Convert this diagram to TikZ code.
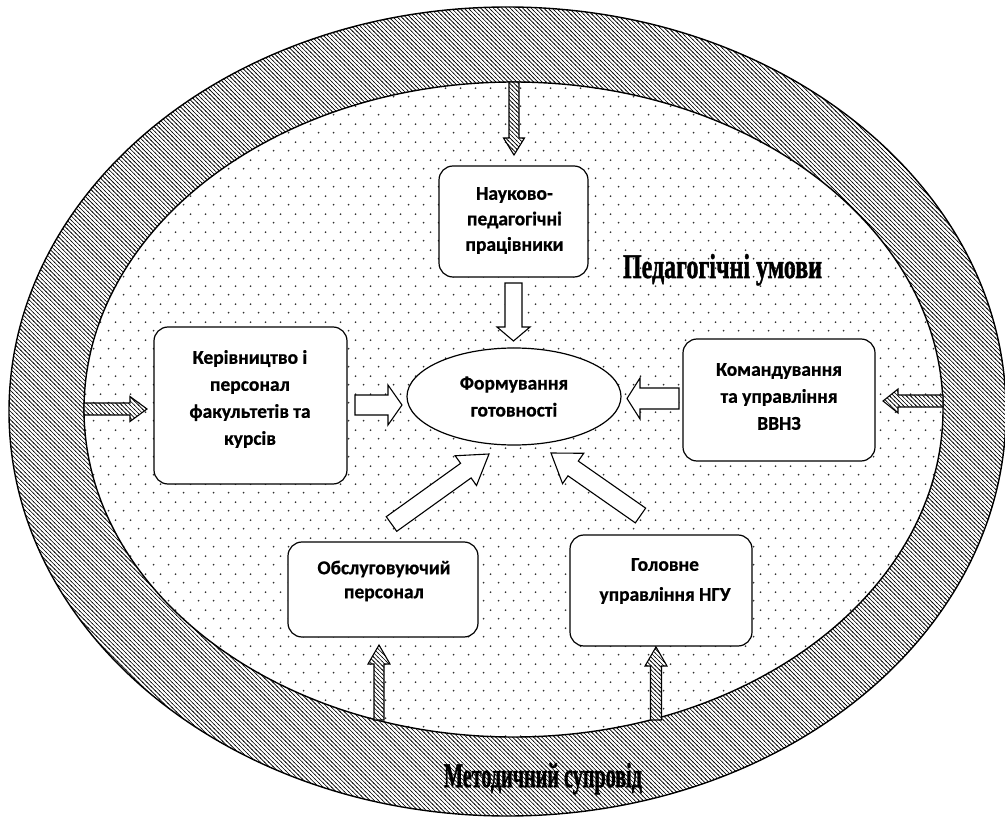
\documentclass[tikz,border=0pt]{standalone}
\usepackage{graphicx}
\usepackage{fontspec}
\setmainfont{Liberation Serif}
\newfontfamily\heavyserif{Liberation Serif Bold}[FakeBold=1.6]
\newfontfamily\boxfont{Carlito Bold}[FakeBold=0.7]
\usetikzlibrary{calc,patterns,shapes.geometric}
\pgfdeclarepatternformonly{hatchlines}{\pgfqpoint{-1pt}{-1pt}}{\pgfqpoint{5.2pt}{5.2pt}}{\pgfqpoint{4.2pt}{4.2pt}}{%
  \pgfsetlinewidth{0.62pt}%
  \pgfpathmoveto{\pgfqpoint{-0.5pt}{4.7pt}}%
  \pgfpathlineto{\pgfqpoint{4.7pt}{-0.5pt}}%
  \pgfusepath{stroke}}
\pgfdeclarepatternformonly{stagdots}{\pgfqpoint{0pt}{0pt}}{\pgfqpoint{15pt}{18pt}}{\pgfqpoint{15pt}{18pt}}{%
  \pgfpathcircle{\pgfqpoint{3.75pt}{4.5pt}}{1.05pt}%
  \pgfpathcircle{\pgfqpoint{11.25pt}{13.5pt}}{1.05pt}%
  \pgfusepath{fill}}
% block arrow: style, from, to, half shaft, half head, head length
\newcommand\blockarrow[6]{%
  \coordinate (ba-base) at ($(#3)!#6!(#2)$);
  \path[#1] ($(#2)!#4!90:(#3)$) -- ($(ba-base)!#4!90:(#3)$) -- ($(ba-base)!#5!90:(#3)$) -- (#3)
    -- ($(ba-base)!#5!-90:(#3)$) -- ($(ba-base)!#4!-90:(#3)$) -- ($(#2)!#4!-90:(#3)$) -- cycle;
}
\begin{document}
\begin{tikzpicture}[x=1pt,y=-1pt,
  box/.style={draw, line width=1.2pt, rounded corners=14pt, fill=white, inner sep=0pt},
  txt/.style={font=\boxfont\fontsize{19.5}{27}\selectfont, align=center, inner sep=0pt},
  warrow/.style={draw, line width=1.1pt, fill=white, line join=miter},
  harrow/.style={draw, line width=1.1pt, preaction={fill=white}, pattern=hatchlines, pattern color=black, line join=miter},
  bigtxt/.style={inner sep=0pt, anchor=base}
]
\useasboundingbox (0,0) rectangle (1005,821);
\fill[white] (0,0) rectangle (1005,821);

% rings
\node[ellipse, draw, line width=1.4pt, minimum width=997pt, minimum height=809pt, inner sep=0pt, outer sep=0pt,
      preaction={fill=white}, pattern=hatchlines, pattern color=black] (outer) at (507.5,411.5) {};
\node[ellipse, draw, line width=1.4pt, minimum width=859pt, minimum height=655pt, inner sep=0pt, outer sep=0pt,
      preaction={fill=white}, pattern=stagdots, pattern color=black!80] (inner) at (513.5,409.5) {};

% hatched arrows from the ring
\coordinate (h1a) at (514,82);  \coordinate (h1b) at (514,155);
\coordinate (h2a) at (84,409);  \coordinate (h2b) at (147,409);
\coordinate (h3a) at (943,401); \coordinate (h3b) at (883,401);
\coordinate (h4a) at (379,720); \coordinate (h4b) at (379,645);
\coordinate (h5a) at (656,720); \coordinate (h5b) at (656,647);
\blockarrow{harrow}{h1a}{h1b}{5pt}{10.5pt}{17pt}
\blockarrow{harrow}{h2a}{h2b}{6pt}{12.5pt}{17pt}
\blockarrow{harrow}{h3a}{h3b}{6pt}{12pt}{15pt}
\blockarrow{harrow}{h4a}{h4b}{5pt}{11pt}{19pt}
\blockarrow{harrow}{h5a}{h5b}{5.5pt}{11pt}{19pt}

% boxes
\node[box, minimum width=149pt, minimum height=111pt] (topbox) at (513.5,221.5) {};
\node[box, minimum width=193pt, minimum height=157pt] (leftbox) at (250.5,405.5) {};
\node[box, minimum width=192pt, minimum height=122pt] (rightbox) at (779,400) {};
\node[box, minimum width=190pt, minimum height=95pt] (blbox) at (383,589.5) {};
\node[box, minimum width=182pt, minimum height=111pt] (brbox) at (661,590.5) {};

\node[txt, font=\boxfont\fontsize{19.5}{25.5}\selectfont] (toptxt) at (514.5,220.5) {Науково-\\педагогічні\\працівники};
\node[txt] (lefttxt) at (250,399) {Керівництво і\\персонал\\факультетів та\\курсів};
\node[txt] (righttxt) at (779,396.5) {Командування\\та управління\\ВВНЗ};
\node[txt, font=\boxfont\fontsize{19.5}{24}\selectfont] (bltxt) at (384,581) {Обслуговуючий\\персонал};
\node[txt, font=\boxfont\fontsize{19.5}{30}\selectfont] (brtxt) at (665,581) {Головне\\управління НГУ};

% centre
\node[ellipse, draw, line width=1.2pt, fill=white, minimum width=214pt, minimum height=97pt, inner sep=0pt,
      txt] (form) at (514,396.5) {Формування\\готовності};

% white arrows
\coordinate (w1a) at (513.5,283); \coordinate (w1b) at (513.5,341);
\coordinate (w2a) at (355,405);   \coordinate (w2b) at (402,405);
\coordinate (w3a) at (679,398.5); \coordinate (w3b) at (627,398.5);
\coordinate (w4a) at (391.5,524); \coordinate (w4b) at (489,454);
\coordinate (w5a) at (640.5,515.5); \coordinate (w5b) at (551,453);
\blockarrow{warrow}{w1a}{w1b}{8.5pt}{16.5pt}{14pt}
\blockarrow{warrow}{w2a}{w2b}{10pt}{20pt}{14pt}
\blockarrow{warrow}{w3a}{w3b}{10.5pt}{20.5pt}{13pt}
\blockarrow{warrow}{w4a}{w4b}{9pt}{18.3pt}{28.5pt}
\blockarrow{warrow}{w5a}{w5b}{9pt}{18.5pt}{27pt}

% big labels
\node[bigtxt] (ped) at (722.5,278) {\resizebox{199pt}{24pt}{\heavyserif Педагогічні умови}};
\node[bigtxt] (met) at (543,787) {\resizebox{198pt}{24pt}{\heavyserif Методичний супровід}};
\end{tikzpicture}
\end{document}
